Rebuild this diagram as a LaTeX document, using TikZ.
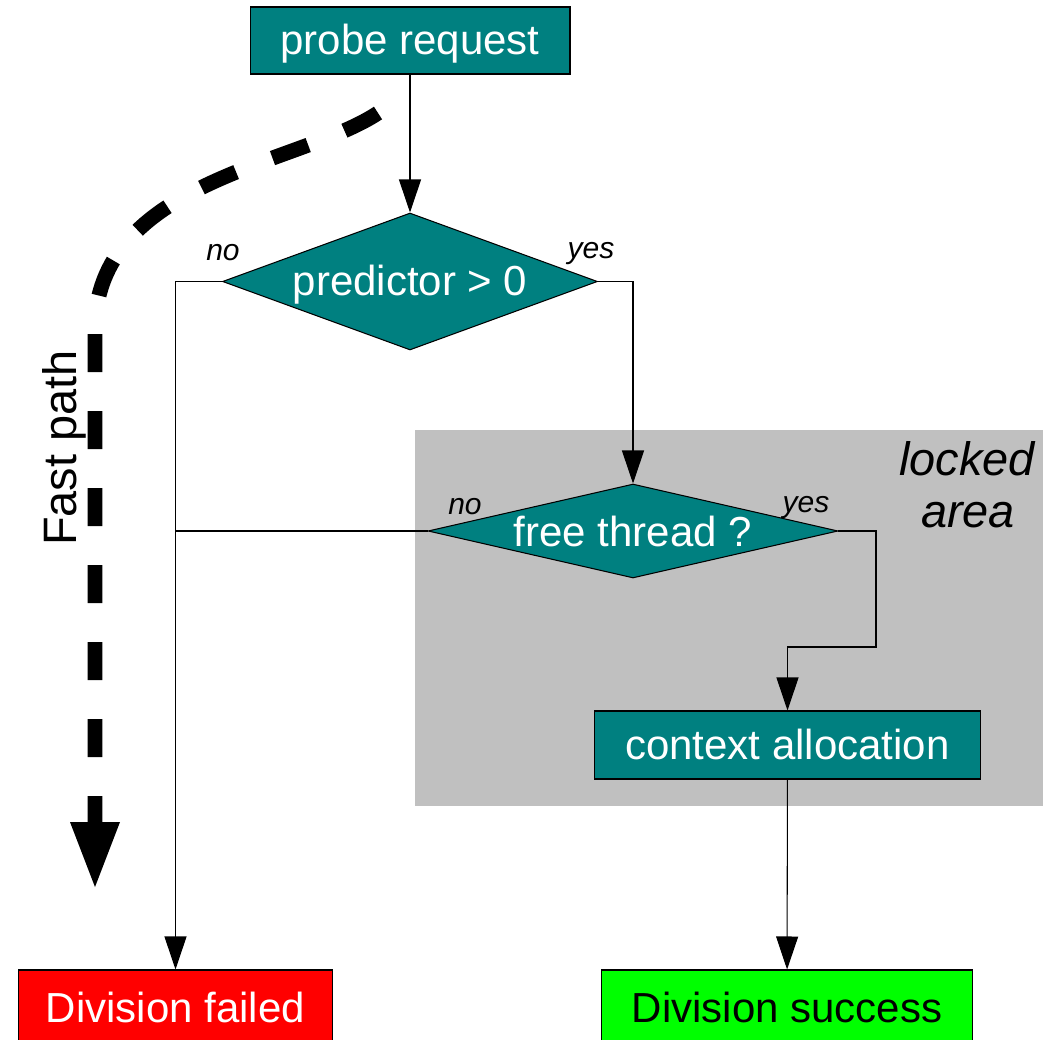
\documentclass[tikz,border=0pt]{standalone}
\usepackage{fontspec}
\setmainfont{Liberation Sans}
\usetikzlibrary{shapes.geometric, arrows.meta, positioning, calc}
\definecolor{boxteal}{RGB}{0,128,128}
\definecolor{lockgray}{RGB}{192,192,192}

\begin{document}
\begin{tikzpicture}[
      x=0.02cm, y=-0.02cm,
      big/.style={font=\fontsize{23.9}{28}\selectfont},
      proc/.style={rectangle, draw=black, line width=0.6pt, fill=boxteal, text=white, inner sep=0pt, text height=21.6pt, text depth=5.1pt, big},
      dec/.style={diamond, draw=black, line width=0.6pt, fill=boxteal, text=white, inner sep=0pt, big},
      term/.style={rectangle, draw=black, line width=0.6pt, inner sep=0pt, minimum height=1.54cm, text height=21.6pt, text depth=5.1pt, big},
      lbl/.style={anchor=base, font=\fontsize{17.1}{20}\selectfont\itshape},
      note/.style={anchor=base, font=\fontsize{26.7}{30}\selectfont\itshape},
      arrow/.style={-{Triangle[length=0.66cm, width=0.44cm]}, line width=0.6pt},
      fast/.style={-{Triangle[length=1.36cm, width=0.9cm]}, line width=0.3cm, dash pattern=on 0.76cm off 0.78cm}
    ]
    \useasboundingbox (0,0) rectangle (1052,1040);

    % locked area
    \fill[lockgray] (415,430) rectangle (1043,806);
    \node[note] (lockA) at (967,476) {locked};
    \node[note] (lockB) at (968,528) {area};

    \node[proc, minimum width=6.4cm, minimum height=1.34cm] (probe) at (410,40.5) {probe request};
    \node[dec, minimum width=7.5cm, minimum height=2.74cm, aspect=2.7, text height=21.6pt, text depth=5.1pt] (pred) at (410,281.5) {predictor > 0};
    \node[dec, minimum width=8.2cm, minimum height=1.88cm, aspect=4.3] (free) at (633,531) {free thread ?};
    \node[proc, minimum width=7.74cm, minimum height=1.36cm] (ctx) at (787.5,745) {context allocation};
    \node[term, fill=red, text=white, minimum width=6.3cm] (fail) at (175.5,1008.5) {Division failed};
    \node[term, fill=green, text=black, minimum width=7.44cm] (succ) at (787,1008.5) {Division success};

    \node[lbl] (predno) at (223,261) {no};
    \node[lbl] (predyes) at (591,259) {yes};
    \node[lbl] (freeno) at (465,515) {no};
    \node[lbl] (freeyes) at (806,513) {yes};

    \draw[arrow] (probe) -- (pred);
    \draw[arrow] (pred.west) -| (fail.north);
    \draw[arrow] (pred.east) -| (free.north);
    \draw[line width=0.6pt] (free.west) -- (free.west -| fail.north);
    \coordinate (bend) at (876,647);
    \draw[arrow] (free.east) -| (bend) -| (ctx.north);
    \draw[arrow] (ctx) -- (succ);

    % fast path
    \coordinate (fstart) at (378,113);
    \coordinate (ftip) at (95,890);
    \draw[fast] (fstart) .. controls (300,165) and (95,180) .. (95,330) -- (ftip);
    \node[rotate=90, anchor=base, font=\fontsize{26.7}{30}\selectfont] (fastlbl) at (76,448) {Fast path};
  \end{tikzpicture}
\end{document}
